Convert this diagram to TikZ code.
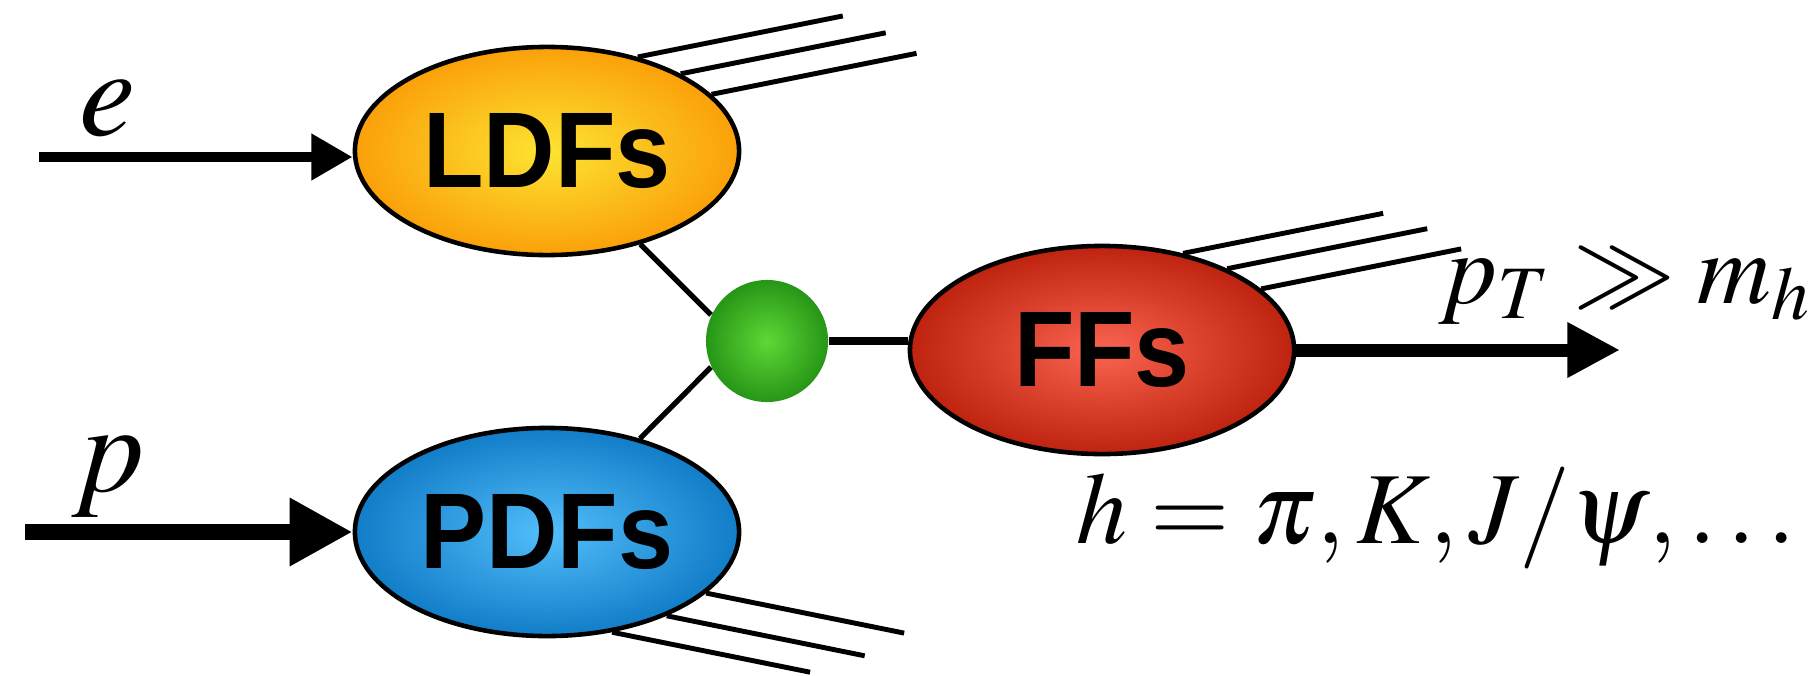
\RequirePackage{fix-cm}
\documentclass[tikz,border=0pt]{standalone}
\usepackage{mathptmx}
\usepackage[no-math]{fontspec}
\newfontfamily\blobfont{Liberation Sans}[FakeStretch=0.92]
\usepackage{tikz}
\usetikzlibrary{shapes.geometric, arrows.meta, positioning}
\usepackage{xcolor}

\definecolor{ldfinner}{RGB}{252,228,50}
\definecolor{ldfouter}{RGB}{251,160,10}
\definecolor{pdfinner}{RGB}{82,190,250}
\definecolor{pdfouter}{RGB}{18,125,200}
\definecolor{ffinner}{RGB}{250,100,80}
\definecolor{ffouter}{RGB}{190,35,15}
\definecolor{hardinner}{RGB}{95,215,55}
\definecolor{hardouter}{RGB}{38,150,22}

\begin{document}
\begin{tikzpicture}[x=0.01cm, y=0.01cm,
    blob/.style = {ellipse, draw=black, line width=1.3pt, shading=radial, minimum width=3.84cm, minimum height=2.08cm, inner sep=0pt, font=\blobfont\bfseries\fontsize{30.6}{36}\selectfont},
    vertex/.style = {circle, inner color=hardinner, outer color=hardouter, minimum size=1.22cm, inner sep=0pt},
    jet/.style = {line width=1.4pt},
    link/.style = {line width=1.5pt},
    mathlabel/.style = {inner sep=0pt, font=\fontsize{29}{35}\selectfont}
]

% Picture frame
\useasboundingbox (0,0) rectangle (1819,675);

% Blobs
\node (ldf_blob) [blob, inner color=ldfinner, outer color=ldfouter] at (547,524) {LDFs};
\node (pdf_blob) [blob, inner color=pdfinner, outer color=pdfouter] at (547,143) {PDFs};
\node (ff_blob) [blob, inner color=ffinner, outer color=ffouter] at (1102,325) {FFs};
\node (hard_vertex) [vertex] at (767,334) {};

% Beams
\coordinate (e_in) at (39,518);
\coordinate (p_in) at (25,143);
\coordinate (h_out) at (1620,325);
\draw [line width=2.9pt, -{Triangle[length=11.7pt, width=12.5pt]}] (e_in) -- (e_in -| ldf_blob.west);
\draw [line width=4.6pt, -{Triangle[length=17.9pt, width=18.2pt]}] (p_in) -- (pdf_blob.west);
\draw [line width=3.7pt, -{Triangle[length=15pt, width=14.8pt]}] (ff_blob.east) -- (h_out);

% Links to the hard vertex
\draw [link] (ldf_blob) -- (hard_vertex.155);
\draw [link] (pdf_blob) -- (hard_vertex.205);
\draw [line width=2pt] (hard_vertex) -- (hard_vertex -| ff_blob.west);

% Jets
\draw [jet] (ldf_blob.46) -- ++(205,41);
\draw [jet] (ldf_blob.30) -- ++(205,41);
\draw [jet] (ldf_blob.19) -- ++(205,41);

\draw [jet] (ff_blob.50) -- ++(200,40);
\draw [jet] (ff_blob.33) -- ++(200,40);
\draw [jet] (ff_blob.21) -- ++(200,40);

\draw [jet] (pdf_blob.-21) -- ++(198,-40);
\draw [jet] (pdf_blob.-35) -- ++(198,-40);
\draw [jet] (pdf_blob.-57) -- ++(198,-40);

% Labels
\node (e_label) [mathlabel, font=\fontsize{36}{40}\selectfont, anchor=base] at (108,540) {$e$};
\node (p_label) [mathlabel, font=\fontsize{36}{40}\selectfont, anchor=base] at (108,184) {$p$};
\node (pt_label) [mathlabel, anchor=base west] at (1438,372) {$p_T \gg m_h$};
\node (h_label) [mathlabel, anchor=base west] at (1076,132) {$h = \pi, K, J/\psi, \ldots$};

\end{tikzpicture}
\end{document}
